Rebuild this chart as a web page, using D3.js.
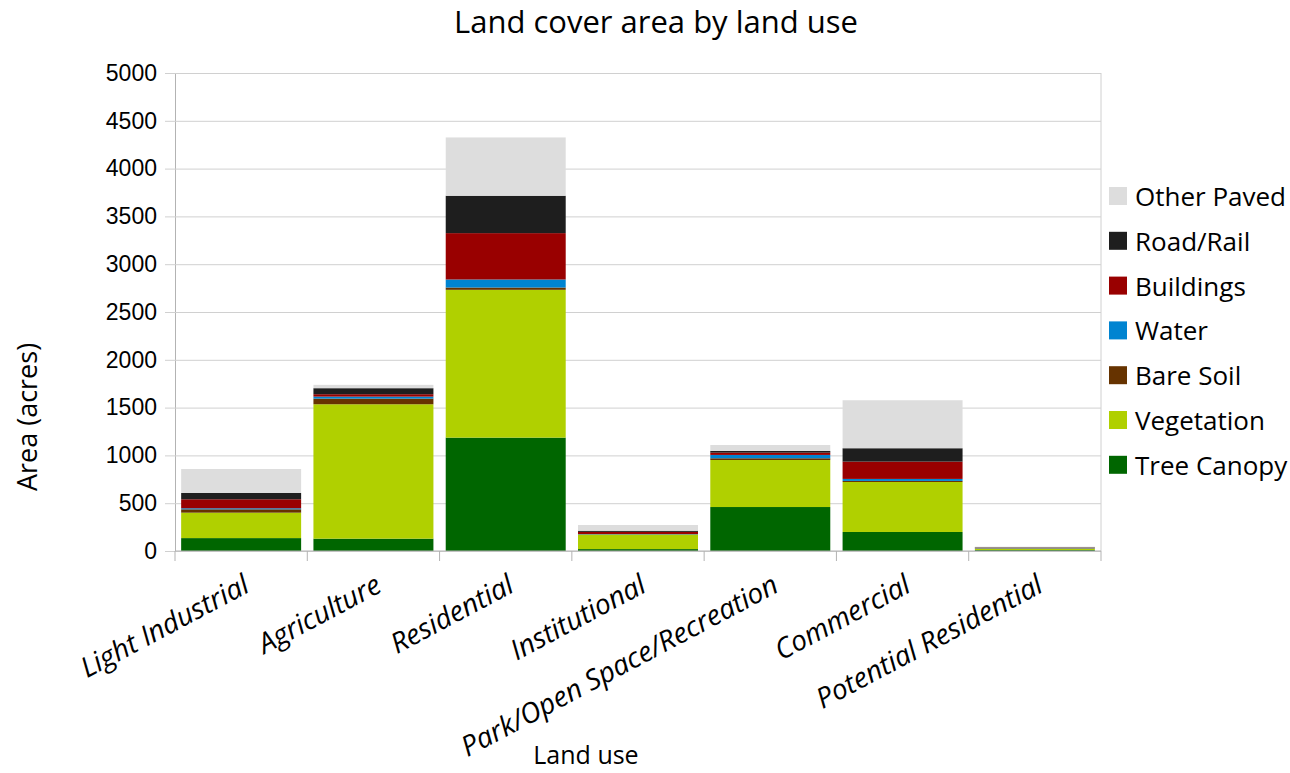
<!DOCTYPE html>
<html>
<head>
<meta charset="utf-8">
<script src="https://cdn.jsdelivr.net/npm/d3@7"></script>
<style>
  body { margin: 0; background: #fff; }
  text { fill: #000; }
</style>
</head>
<body>
<script>
const w = 1290
const h = 773
const margin = { top: 73, right: 189, bottom: 223, left: 175 }

// land use categories along the x axis
const landUse = ['Light Industrial', 'Agriculture', 'Residential', 'Institutional',
    'Park/Open Space/Recreation', 'Commercial', 'Potential Residential']

// cover types, bottom of stack first
const coverTypes = ['Tree Canopy', 'Vegetation', 'Bare Soil', 'Water', 'Buildings', 'Road/Rail', 'Other Paved']
const coverColors = ['#006600', '#b0d000', '#663300', '#0084d1', '#990000', '#1e1e1e', '#dddddd']

// area in acres, one value per land use
const treeCanopy = [135, 129, 1186, 20, 460, 199, 10]
const vegetation = [266, 1406, 1546, 152, 492, 523, 14]
const bareSoil   = [35, 59, 24, 3, 18, 11, 3]
const water      = [11, 21, 84, 3, 35, 21, 3]
const buildings  = [94, 25, 485, 22, 24, 181, 4]
const roadRail   = [66, 63, 391, 12, 18, 140, 5]
const otherPaved = [251, 35, 610, 60, 62, 502, 6]

const yTicks = [0, 500, 1000, 1500, 2000, 2500, 3000, 3500, 4000, 4500, 5000]

const seriesValues = [treeCanopy, vegetation, bareSoil, water, buildings, roadRail, otherPaved]

const rows = landUse.map(function (name, i) {
    const row = { landUse: name }
    coverTypes.forEach(function (c, j) { row[c] = seriesValues[j][i] })
    return row
})

const stacked = d3.stack().keys(coverTypes)(rows)

const svg = d3.select('body').append('svg')
    .attr('width', w)
    .attr('height', h)

const xScale = d3.scaleBand()
    .domain(landUse)
    .range([margin.left, w - margin.right])
    .paddingInner(0.093)
    .paddingOuter(0.0465)

const yScale = d3.scaleLinear()
    .domain([0, 5000])
    .range([h - margin.bottom + 1, margin.top])

const color = d3.scaleOrdinal().domain(coverTypes).range(coverColors)

// gridlines and y ticks
const yAxis = svg.append('g')
    .attr('transform', `translate(${margin.left},0)`)
    .call(d3.axisLeft(yScale).tickValues(yTicks)
        .tickFormat(d3.format('d'))
        .tickSizeInner(-(w - margin.right - margin.left))
        .tickSizeOuter(0)
        .tickPadding(18))
yAxis.select('.domain').attr('stroke', '#b3b3b3')
yAxis.selectAll('.tick line').attr('stroke', '#d0d0d0').attr('x1', -10)
yAxis.selectAll('.tick text')
    .attr('font-family', 'Liberation Sans, Arial, sans-serif')
    .attr('font-size', 23)
    .attr('fill', '#000')

// right frame line
svg.append('line')
    .attr('x1', w - margin.right).attr('x2', w - margin.right)
    .attr('y1', yScale(5000)).attr('y2', yScale(0))
    .attr('stroke', '#d0d0d0')

// bars
svg.append('g').selectAll('g')
    .data(stacked)
    .enter()
    .append('g')
    .attr('fill', function (d) { return color(d.key) })
    .selectAll('rect')
    .data(function (d) { return d })
    .enter()
    .append('rect')
    .attr('x', function (d) { return xScale(d.data.landUse) })
    .attr('width', xScale.bandwidth())
    .attr('y', function (d) { return yScale(d[1]) })
    .attr('height', function (d) { return yScale(d[0]) - yScale(d[1]) })

// x axis line and category boundary ticks
const xAxis = svg.append('g')
    .attr('transform', `translate(0,${yScale(0)})`)
xAxis.append('line')
    .attr('x1', margin.left).attr('x2', w - margin.right)
    .attr('stroke', '#b3b3b3')
xAxis.selectAll('.bound')
    .data(landUse.concat(['end']))
    .enter()
    .append('line')
    .attr('class', 'bound')
    .attr('x1', function (d, i) { return margin.left + i * xScale.step() })
    .attr('x2', function (d, i) { return margin.left + i * xScale.step() })
    .attr('y1', 0).attr('y2', 10)
    .attr('stroke', '#b3b3b3')

// rotated category labels
svg.append('g').selectAll('text')
    .data(landUse)
    .enter()
    .append('text')
    .attr('transform', function (d) {
        return `translate(${xScale(d) + xScale.bandwidth() / 2 + 10},591) rotate(-28)`
    })
    .attr('text-anchor', 'end')
    .attr('font-family', 'Open Sans, sans-serif')
    .attr('font-style', 'italic')
    .attr('font-size', 28)
    .text(function (d) { return d })

// titles
svg.append('text')
    .attr('x', 656).attr('y', 33)
    .attr('text-anchor', 'middle')
    .attr('font-family', 'Open Sans, sans-serif')
    .attr('font-size', 31)
    .text('Land cover area by land use')

svg.append('text')
    .attr('x', 586).attr('y', 764)
    .attr('text-anchor', 'middle')
    .attr('font-family', 'Open Sans, sans-serif')
    .attr('font-size', 25)
    .text('Land use')

svg.append('text')
    .attr('transform', 'translate(37,417) rotate(-90)')
    .attr('text-anchor', 'middle')
    .attr('font-family', 'Open Sans, sans-serif')
    .attr('font-size', 27)
    .text('Area (acres)')

// legend, top entry is the top of the stack
const legendItems = coverTypes.slice().reverse()
const legend = svg.append('g').selectAll('g')
    .data(legendItems)
    .enter()
    .append('g')
    .attr('transform', function (d, i) { return `translate(1109,${196 + i * 44.8})` })
legend.append('rect')
    .attr('x', 0).attr('y', -9)
    .attr('width', 18).attr('height', 18)
    .attr('fill', function (d) { return color(d) })
legend.append('text')
    .attr('x', 26).attr('y', 10)
    .attr('font-family', 'Open Sans, sans-serif')
    .attr('font-size', 26)
    .text(function (d) { return d })
</script>
</body>
</html>
